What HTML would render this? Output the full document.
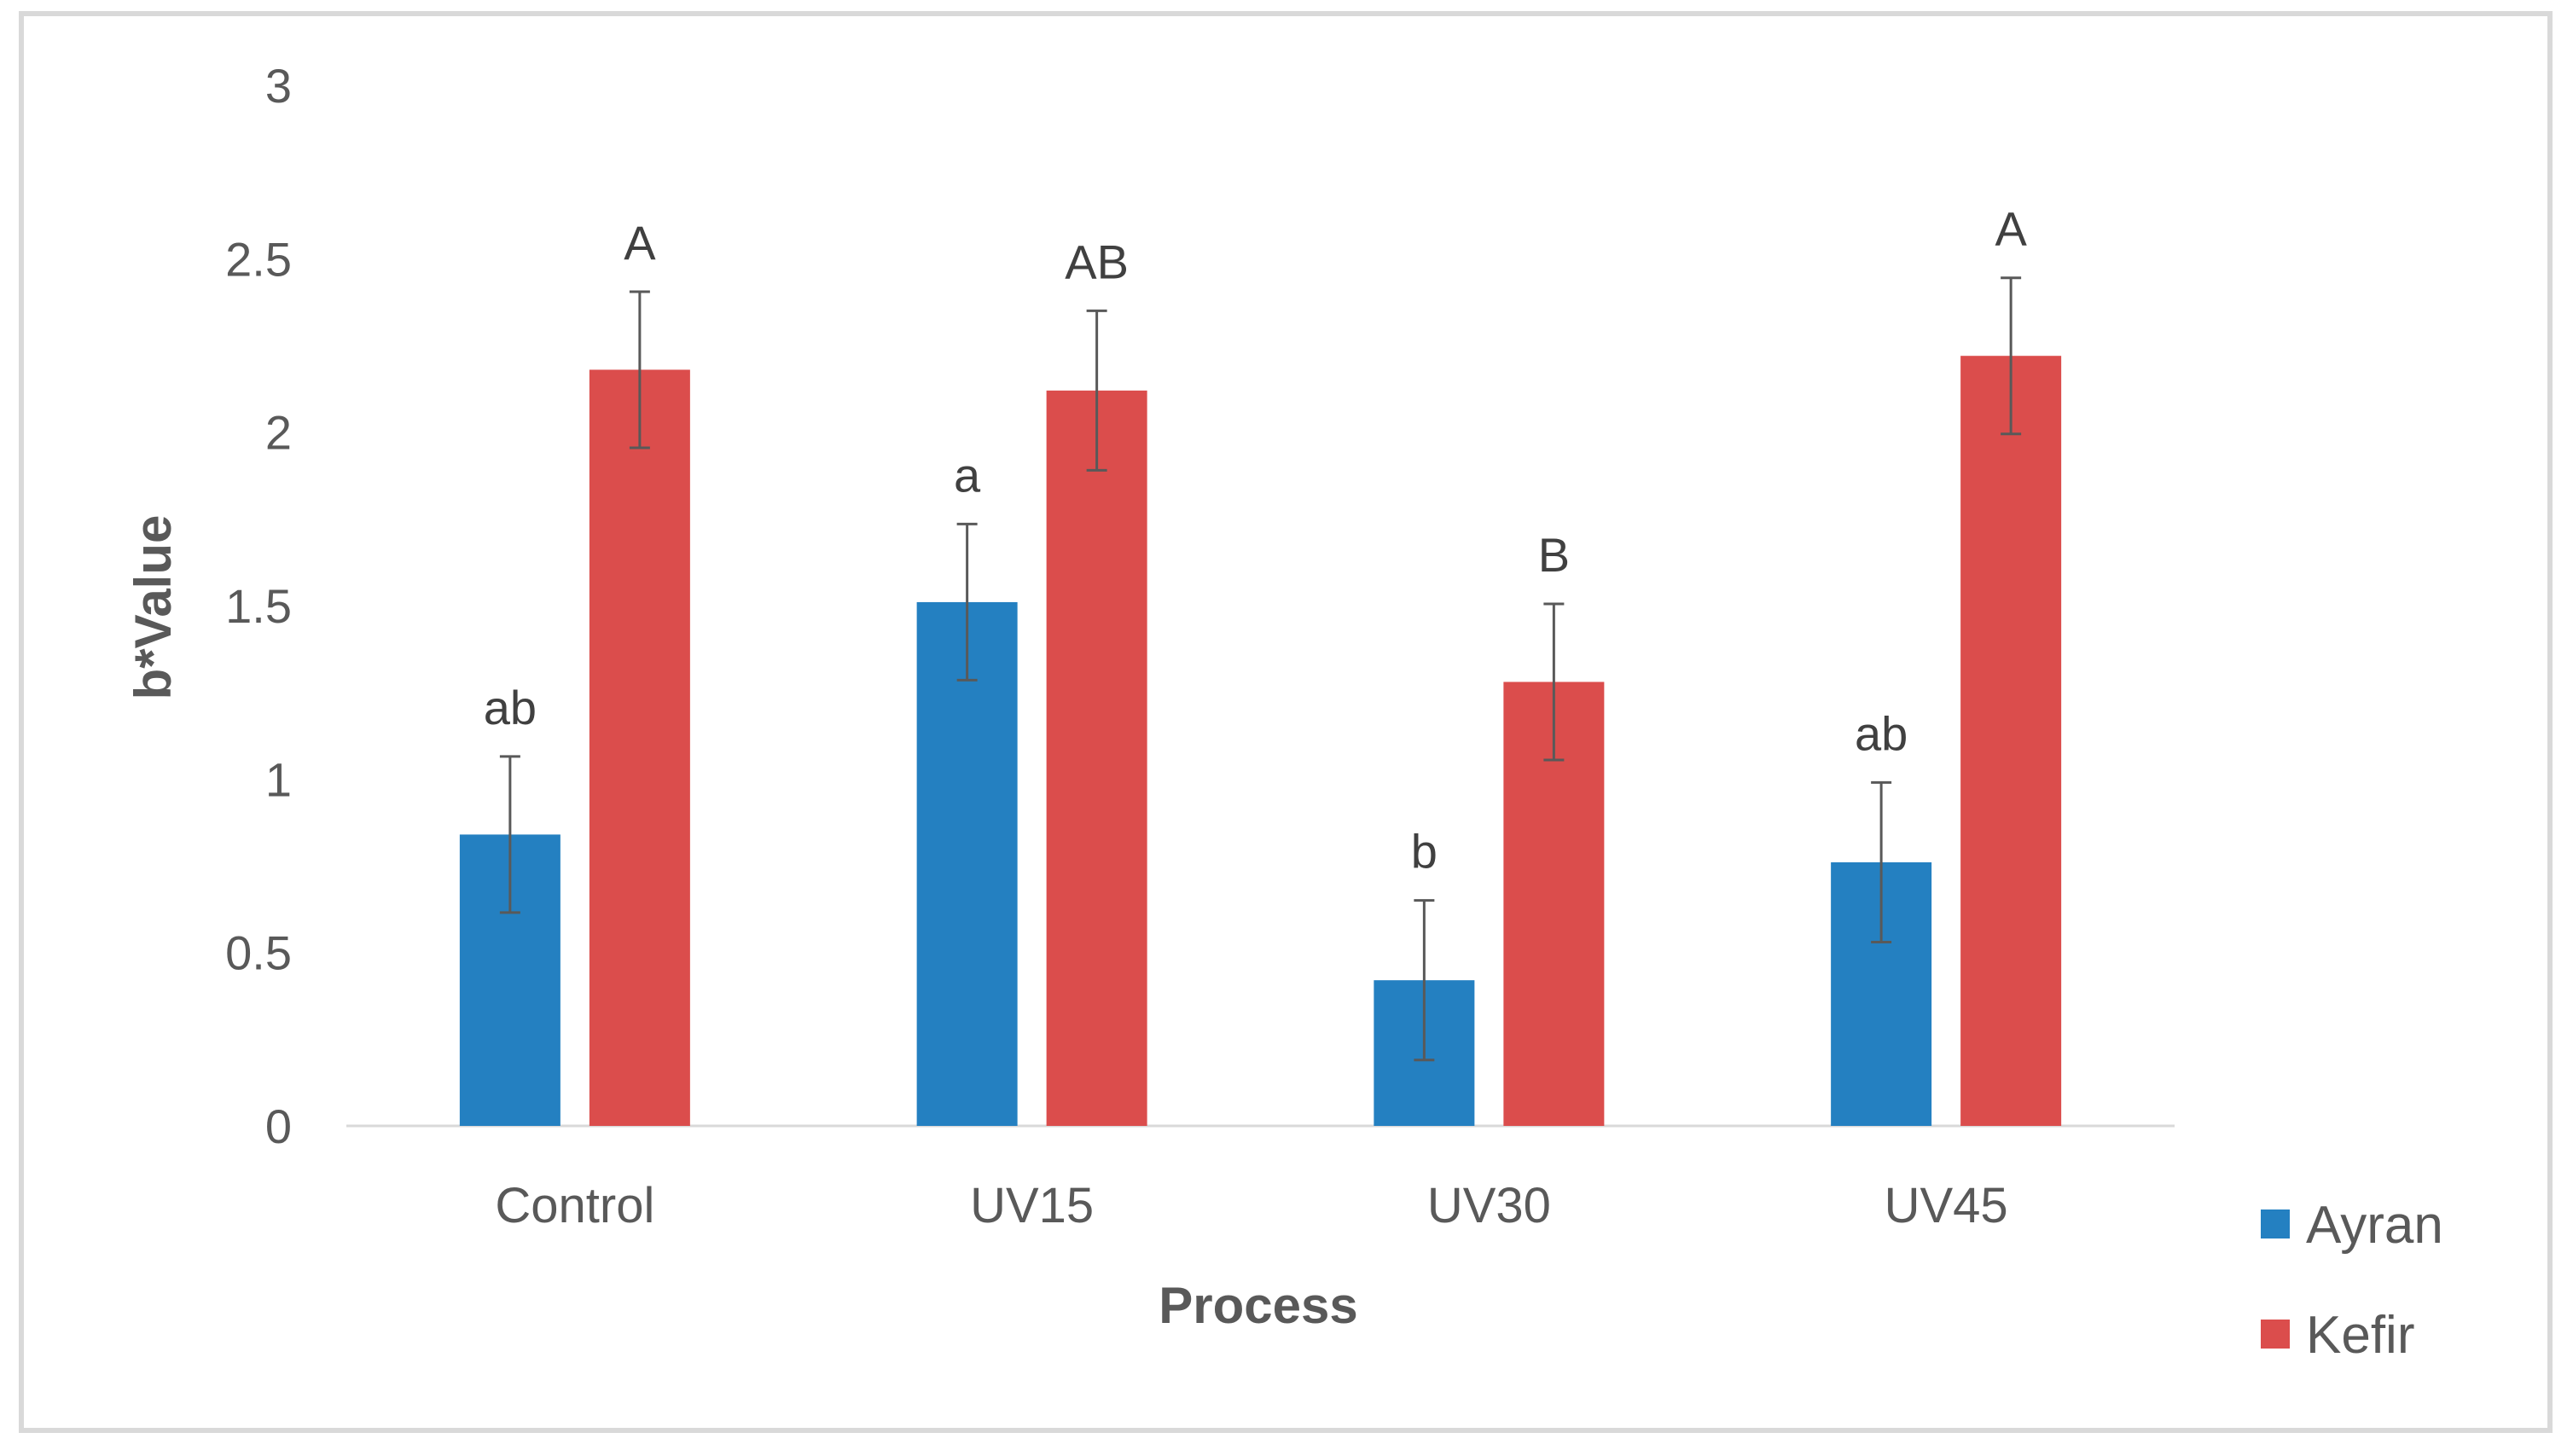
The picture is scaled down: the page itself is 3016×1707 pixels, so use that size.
<!DOCTYPE html>
<html><head><meta charset="utf-8"><style>
html,body{margin:0;padding:0;background:#fff;}
svg{display:block;font-family:"Liberation Sans",sans-serif;}
</style></head><body>
<svg id="chart" width="3016" height="1707" viewBox="0 0 3016 1707">
<rect x="25" y="16" width="2964" height="1661" fill="#fff" stroke="#d9d9d9" stroke-width="6"/>
<g id="plot"></g>
</svg>
<script>
const categories = ["Control","UV15","UV30","UV45"];
const ayranValues = [0.84,1.51,0.42,0.76];
const kefirValues = [2.18,2.12,1.28,2.22];
const ayranErrors = [0.225,0.225,0.23,0.23];
const kefirErrors = [0.225,0.23,0.225,0.225];
const ayranLetters = ["ab","a","b","ab"];
const kefirLetters = ["A","AB","B","A"];
const yTicks = [0,0.5,1,1.5,2,2.5,3];
const yTickLabels = ["0","0.5","1","1.5","2","2.5","3"];

const NS="http://www.w3.org/2000/svg";
const g=document.getElementById('plot');
const x0=406,x1=2549,yBase=1320,yTop=100,yMax=3;
const bandW=(x1-x0)/categories.length;
function yScale(v){return yBase-(v/yMax)*(yBase-yTop);}
function xCenter(i){return x0+bandW*(i+0.5);}
function mk(tag,attrs,text){const e=document.createElementNS(NS,tag);for(const k in attrs)e.setAttribute(k,attrs[k]);if(text!==undefined)e.textContent=text;g.appendChild(e);return e;}

yTicks.forEach((t,i)=>{
  const e=mk('text',{x:342,y:yScale(t)+20,'text-anchor':'end','font-size':56,fill:'#595959'},yTickLabels[i]);
  
  
});
const ax=mk('line',{x1:x0,y1:yBase,x2:x1,y2:yBase,stroke:'#d9d9d9','stroke-width':3});



const barW=118,gap=34;
function drawSeries(vals,errs,letters,color,off,name){
  vals.forEach((v,i)=>{
    const cx=xCenter(i)+off;
    const r=mk('rect',{x:cx-barW/2,y:yScale(v),width:barW,height:yBase-yScale(v),fill:color});
    
    
    const hi=yScale(v+errs[i]),lo=yScale(v-errs[i]);
    const eb=mk('path',{d:`M${cx},${hi}V${lo}M${cx-12},${hi}H${cx+12}M${cx-12},${lo}H${cx+12}`,stroke:'#595959','stroke-width':3,fill:'none'});
    
    
    const t=mk('text',{x:cx,y:hi-38,'text-anchor':'middle','font-size':56,fill:'#404040'},letters[i]);
    
    
  });
}
drawSeries(ayranValues,ayranErrors,ayranLetters,'#2480c1',-(barW+gap)/2,'ayran');
drawSeries(kefirValues,kefirErrors,kefirLetters,'#db4d4c',(barW+gap)/2,'kefir');

categories.forEach((c,i)=>{
  const t=mk('text',{x:xCenter(i),y:1433,'text-anchor':'middle','font-size':58,fill:'#595959'},c);
  
  
});
const xt=mk('text',{x:1475,y:1551,'text-anchor':'middle','font-size':60,'font-weight':'bold',fill:'#595959'},'Process');


const yt=mk('text',{x:0,y:0,transform:'translate(200,712) rotate(-90)','text-anchor':'middle','font-size':60,'font-weight':'bold',fill:'#595959'},'b*Value');



const legend=[["Ayran",'#2480c1',1435],["Kefir",'#db4d4c',1564]];
legend.forEach(l=>{
  const s=mk('rect',{x:2650,y:l[2]-17,width:34,height:34,fill:l[1]});
  
  
  const t=mk('text',{x:2703,y:l[2]+22,'font-size':62,fill:'#595959'},l[0]);
  
  
});
</script>
</body></html>
